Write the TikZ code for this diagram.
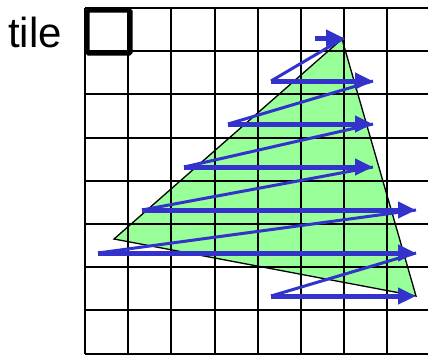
\documentclass[tikz,border=0pt]{standalone}
\usepackage{fontspec}
\setmainfont{Liberation Sans}
\usetikzlibrary{arrows.meta}
\definecolor{scanblue}{RGB}{51,51,204}
\definecolor{trigreen}{RGB}{153,255,153}
\tikzset{
  gridline/.style={black, line width=2pt},
  tilebox/.style={black, line width=4.5pt, rounded corners=1.5pt},
  triedge/.style={black, line width=1.3pt, line join=miter},
  scanarrow/.style={scanblue, line width=5pt, -{Triangle[length=18pt,width=16pt]}},
  scanjump/.style={scanblue, line width=3pt},
}
\begin{document}
\begin{tikzpicture}[x=1pt,y=-1pt]
\useasboundingbox (0,0) rectangle (428,354);
\clip (0,0) rectangle (428,354);
% triangle
\coordinate (A) at (342,39);
\coordinate (B) at (114,239);
\coordinate (C) at (416,296);
\fill[trigreen] (A) -- (B) -- (C) -- cycle;
% grid
\foreach \i in {0,...,8} {
  \draw[gridline] (85+43.2*\i,8) -- (85+43.2*\i,353.6);
  \draw[gridline] (85,8+43.2*\i) -- (440,8+43.2*\i);
}
\draw[triedge] (A) -- (B) -- (C) -- cycle;
% tile label
\node[anchor=base west, inner sep=0pt, font=\fontsize{42}{50}\selectfont] (lbl) at (8,47) {tile};
\node[draw, tilebox, minimum width=43.2pt, minimum height=43.2pt, inner sep=0pt, anchor=north west] (tile) at (85,8) {};
% scan arrows
\coordinate (s1) at (315,38);  \coordinate (t1) at (344,38);
\coordinate (s2) at (271,81);  \coordinate (t2) at (373,81);
\coordinate (s3) at (228,124); \coordinate (t3) at (373,124);
\coordinate (s4) at (184,167); \coordinate (t4) at (373,167);
\coordinate (s5) at (142,210); \coordinate (t5) at (416,210);
\coordinate (s6) at (98,253);  \coordinate (t6) at (416,253);
\coordinate (s7) at (271,296); \coordinate (t7) at (416,296);
\draw[scanjump] (t1) -- (s2);
\draw[scanjump] (t2) -- (s3);
\draw[scanjump] (t3) -- (s4);
\draw[scanjump] (t4) -- (s5);
\draw[scanjump] (t5) -- (s6);
\draw[scanjump] (t6) -- (s7);
\foreach \k in {1,...,7} {
  \draw[scanarrow] (s\k) -- (t\k);
}
\end{tikzpicture}
\end{document}
